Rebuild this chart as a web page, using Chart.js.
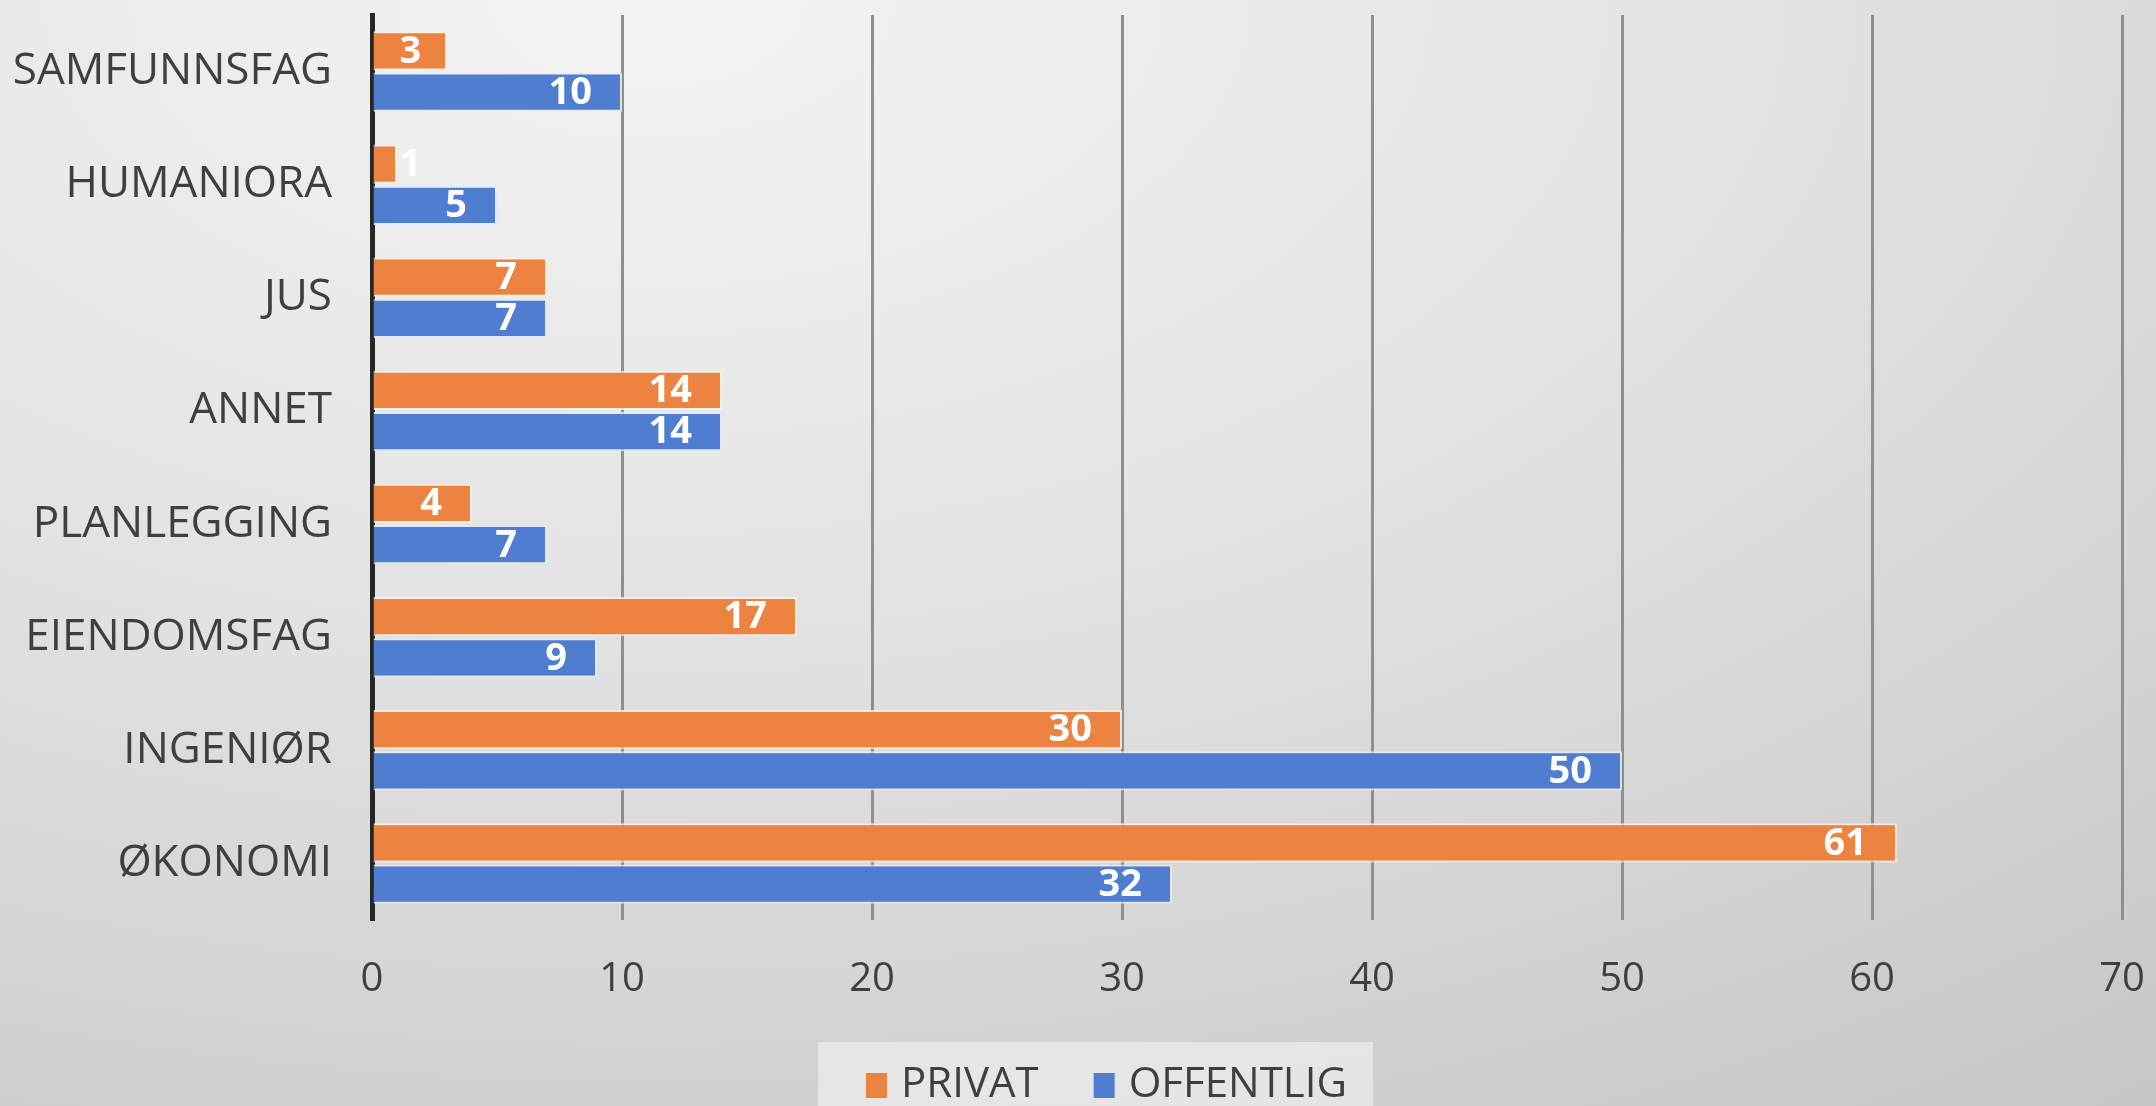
<!DOCTYPE html>
<html lang="no">
<head>
    <meta charset="UTF-8">
    <title>Privat / Offentlig</title>
    <script src="https://cdn.jsdelivr.net/npm/chart.js"></script>
    <style>
        html, body { margin: 0; padding: 0; }
        .wrap {
            width: 2156px;
            height: 1106px;
            position: relative;
            background: radial-gradient(ellipse 120% 130% at 30% 0%, #f4f4f4 0%, #e2e2e2 45%, #d2d2d2 75%, #c4c4c4 100%);
        }
    </style>
</head>
<body>
    <div class="wrap">
        <canvas id="chart"></canvas>
    </div>

    <script>
        // Data
        const categories = ['SAMFUNNSFAG', 'HUMANIORA', 'JUS', 'ANNET', 'PLANLEGGING', 'EIENDOMSFAG', 'INGENIØR', 'ØKONOMI'];
        const privat = [3, 1, 7, 14, 4, 17, 30, 61];
        const offentlig = [10, 5, 7, 14, 7, 9, 50, 32];
        const xTicks = [0, 10, 20, 30, 40, 50, 60, 70];

        const FONT = '"Open Sans", "Noto Sans", sans-serif';
        const TEXT = '#3f3f3f';

        // white value labels at the inside end of each bar
        const valueLabels = {
            id: 'valueLabels',
            afterDatasetsDraw(chart) {
                const ctx = chart.ctx;
                ctx.save();
                ctx.font = 'bold 38px ' + FONT;
                ctx.fillStyle = '#ffffff';
                ctx.textAlign = 'right';
                ctx.textBaseline = 'middle';
                chart.data.datasets.forEach((ds, i) => {
                    const meta = chart.getDatasetMeta(i);
                    meta.data.forEach((bar, j) => {
                        const txt = String(ds.data[j]);
                        const w = ctx.measureText(txt).width;
                        const x = Math.max(bar.x - 30, bar.base + 26 + w);
                        ctx.fillText(txt, x, bar.y + 1);
                    });
                });
                ctx.restore();
            }
        };

        // legend in a light panel below the axis (built-in one can't be offset)
        const panelLegend = {
            id: 'panelLegend',
            afterDraw(chart) {
                const ctx = chart.ctx;
                const cy = 1085;
                let x = 866;
                ctx.save();
                ctx.font = '42px ' + FONT;
                ctx.textBaseline = 'middle';
                ctx.textAlign = 'left';

                const items = chart.data.datasets.map(ds => ({ text: ds.label, color: ds.backgroundColor }));
                let total = 0;
                items.forEach((it, i) => {
                    total += 21 + 14 + ctx.measureText(it.text).width + (i < items.length - 1 ? 55 : 0);
                });

                ctx.fillStyle = 'rgba(236,236,236,0.75)';
                ctx.fillRect(x - 48, cy - 43, total + 48 + 26, chart.height);

                items.forEach(it => {
                    ctx.fillStyle = it.color;
                    ctx.fillRect(x, cy - 12, 21, 25);
                    x += 21 + 14;
                    ctx.fillStyle = TEXT;
                    ctx.fillText(it.text, x, cy);
                    x += ctx.measureText(it.text).width + 55;
                });
                ctx.restore();
            }
        };

        const ctx = document.getElementById('chart').getContext('2d');
        new Chart(ctx, {
            type: 'bar',
            data: {
                labels: categories,
                datasets: [
                    {
                        label: 'PRIVAT',
                        data: privat,
                        backgroundColor: '#ec8340',
                        borderColor: 'rgba(255,240,225,0.8)',
                        borderWidth: 2,
                        borderSkipped: 'start'
                    },
                    {
                        label: 'OFFENTLIG',
                        data: offentlig,
                        backgroundColor: '#4f7dcf',
                        borderColor: 'rgba(225,235,255,0.8)',
                        borderWidth: 2,
                        borderSkipped: 'start'
                    }
                ]
            },
            options: {
                indexAxis: 'y',
                responsive: true,
                maintainAspectRatio: false,
                animation: false,
                categoryPercentage: 0.73,
                barPercentage: 0.95,
                layout: {
                    padding: { left: 14, right: 34, top: 15, bottom: 95 }
                },
                scales: {
                    x: {
                        min: 0,
                        max: 70,
                        afterBuildTicks(scale) {
                            scale.ticks = xTicks.map(v => ({ value: v }));
                        },
                        afterFit(scale) {
                            scale.height = 91;
                            scale.paddingLeft = 0;
                            scale.paddingRight = 0;
                        },
                        grid: {
                            color: '#8f8f8f',
                            lineWidth: 3,
                            drawTicks: false
                        },
                        border: { display: false },
                        ticks: {
                            color: TEXT,
                            padding: 36,
                            font: { family: FONT, size: 40 }
                        }
                    },
                    y: {
                        afterFit(scale) {
                            scale.width = 358;
                            scale.paddingTop = 0;
                            scale.paddingBottom = 0;
                        },
                        grid: { display: false, drawTicks: false },
                        border: { display: true, color: '#262626', width: 5 },
                        ticks: {
                            color: TEXT,
                            padding: 40,
                            font: { family: FONT, size: 44 }
                        }
                    }
                },
                plugins: {
                    tooltip: { enabled: false },
                    legend: { display: false }
                }
            },
            plugins: [valueLabels, panelLegend]
        });
    </script>
</body>
</html>
